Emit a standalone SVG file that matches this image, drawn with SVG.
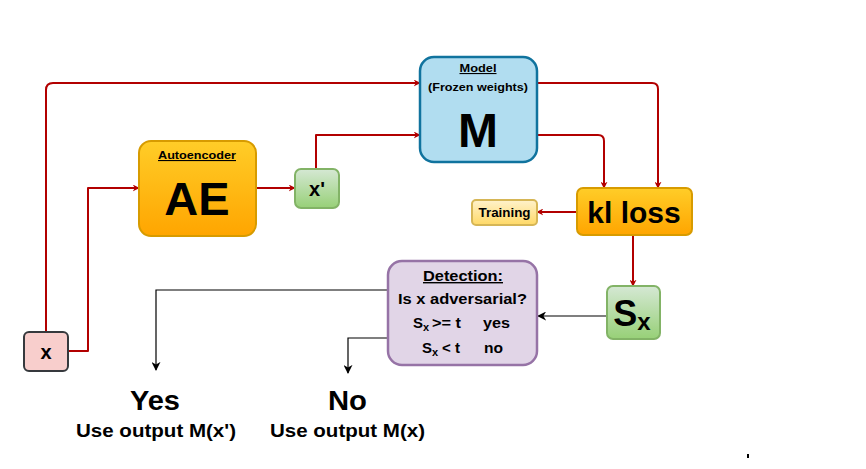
<svg xmlns="http://www.w3.org/2000/svg" width="866" height="469" viewBox="0 0 866 469">
<style>
.t{font-family:"Liberation Sans",Arial,sans-serif;font-weight:bold;fill:#000;text-anchor:middle}
.s{font-family:"Liberation Sans",Arial,sans-serif;font-weight:bold;fill:#000;text-anchor:start}
.red{fill:none;stroke:#b20000;stroke-width:2;stroke-linejoin:round}
.blk{fill:none;stroke:#000;stroke-width:1.2}
</style>
<defs>
<linearGradient id="gOr" x1="0" y1="0" x2="0" y2="1"><stop offset="0" stop-color="#ffcd28"/><stop offset="1" stop-color="#ffa500"/></linearGradient>
<linearGradient id="gGr" x1="0" y1="0" x2="0" y2="1"><stop offset="0" stop-color="#d5e8d4"/><stop offset="1" stop-color="#97d077"/></linearGradient>
<linearGradient id="gYe" x1="0" y1="0" x2="0" y2="1"><stop offset="0" stop-color="#fff2cc"/><stop offset="1" stop-color="#ffd966"/></linearGradient>
<marker id="aR" viewBox="0 0 10 10" refX="9" refY="5" markerWidth="7" markerHeight="7" orient="auto" markerUnits="userSpaceOnUse"><path d="M0,0 L10,5 L0,10 L3,5 z" fill="#b20000"/></marker>
<marker id="aK" viewBox="0 0 10 10" refX="9" refY="5" markerWidth="9" markerHeight="9" orient="auto" markerUnits="userSpaceOnUse"><path d="M0,0 L10,5 L0,10 L3,5 z" fill="#000"/></marker>
</defs>
<rect width="866" height="469" fill="#fff"/>
<g id="connectors">
<path class="red" marker-end="url(#aR)" d="M46,332 V90 Q46,83 53,83 H420"/>
<path class="red" marker-end="url(#aR)" d="M68,351 H88 V188 H139"/>
<path class="red" marker-end="url(#aR)" d="M256,188 H295"/>
<path class="red" marker-end="url(#aR)" d="M316,169 V135 H420"/>
<path class="red" marker-end="url(#aR)" d="M537,83 H652 Q658,83 658,89 V188"/>
<path class="red" marker-end="url(#aR)" d="M537,135 H598 Q604,135 604,141 V188"/>
<path class="red" marker-end="url(#aR)" d="M577,212 H537"/>
<path class="red" marker-end="url(#aR)" d="M633,235 V286"/>
<path class="blk" marker-end="url(#aK)" d="M607,316 H538"/>
<path class="blk" marker-end="url(#aK)" d="M388,290 H156 V370"/>
<path class="blk" marker-end="url(#aK)" d="M388,338 H348 V373"/>
</g>
<g id="node-x">
<rect x="24" y="332" width="44" height="39" rx="5" fill="#f8cecc" stroke="#36393d" stroke-width="2"/>
<text class="t" x="46" y="359" font-size="20">x</text>
</g>
<g id="node-ae">
<rect x="139" y="141" width="117" height="95" rx="12" fill="url(#gOr)" stroke="#d79b00" stroke-width="2"/>
<text class="t" x="197" y="159" font-size="11" text-decoration="underline" textLength="78" lengthAdjust="spacingAndGlyphs">Autoencoder</text>
<text class="t" x="197" y="215" font-size="47">AE</text>
</g>
<g id="node-xp">
<rect x="295" y="169" width="44" height="39" rx="6" fill="url(#gGr)" stroke="#82b366" stroke-width="2"/>
<text class="t" x="317" y="196" font-size="20">x'</text>
</g>
<g id="node-model">
<rect x="420" y="57" width="117" height="105" rx="14" fill="#b1ddf0" stroke="#10739e" stroke-width="2.5"/>
<text class="t" x="478" y="72" font-size="11" text-decoration="underline" textLength="37" lengthAdjust="spacingAndGlyphs">Model</text>
<text class="t" x="478" y="91" font-size="11" textLength="100" lengthAdjust="spacingAndGlyphs">(Frozen weights)</text>
<text class="t" x="478" y="147" font-size="48">M</text>
</g>
<g id="node-kl">
<rect x="577" y="188" width="115" height="47" rx="6" fill="url(#gOr)" stroke="#d79b00" stroke-width="2"/>
<text class="t" x="634" y="223" font-size="30">kl loss</text>
</g>
<g id="node-training">
<rect x="472" y="200" width="65" height="25" rx="4" fill="url(#gYe)" stroke="#d6b656" stroke-width="2"/>
<text class="t" x="504.5" y="216.5" font-size="12" textLength="52" lengthAdjust="spacingAndGlyphs">Training</text>
</g>
<g id="node-sx">
<rect x="607" y="286" width="53" height="53" rx="6" fill="url(#gGr)" stroke="#82b366" stroke-width="2"/>
<text class="t" x="632" y="326" font-size="36">S<tspan font-size="24" dy="4">x</tspan></text>
</g>
<g id="node-detection">
<rect x="388" y="261" width="149" height="104" rx="14" fill="#e1d5e7" stroke="#9673a6" stroke-width="2.5"/>
<text class="t" x="463" y="281" font-size="14" text-decoration="underline" textLength="80" lengthAdjust="spacingAndGlyphs">Detection:</text>
<text class="t" x="462.5" y="304" font-size="14" textLength="129" lengthAdjust="spacingAndGlyphs">Is x adversarial?</text>
<text class="s" x="413" y="328" font-size="15">S<tspan font-size="11" dy="3">x</tspan></text>
<text class="s" x="432" y="328" font-size="15" textLength="29" lengthAdjust="spacingAndGlyphs">&gt;= t</text>
<text class="s" x="483" y="328" font-size="15" textLength="27" lengthAdjust="spacingAndGlyphs">yes</text>
<text class="s" x="422" y="353" font-size="15">S<tspan font-size="11" dy="3">x</tspan></text>
<text class="s" x="442" y="353" font-size="15">&lt; t</text>
<text class="s" x="484" y="353" font-size="15" textLength="19" lengthAdjust="spacingAndGlyphs">no</text>
</g>
<g id="node-yes">
<text class="t" x="155" y="410" font-size="27" textLength="50" lengthAdjust="spacingAndGlyphs">Yes</text>
<text class="t" x="156" y="437" font-size="18" textLength="160" lengthAdjust="spacingAndGlyphs">Use output M(x')</text>
</g>
<g id="node-no">
<text class="t" x="347.5" y="410" font-size="27" textLength="39" lengthAdjust="spacingAndGlyphs">No</text>
<text class="t" x="347.5" y="437" font-size="18" textLength="155" lengthAdjust="spacingAndGlyphs">Use output M(x)</text>
</g>
<rect x="747" y="454" width="2" height="4" fill="#000"/>
</svg>
